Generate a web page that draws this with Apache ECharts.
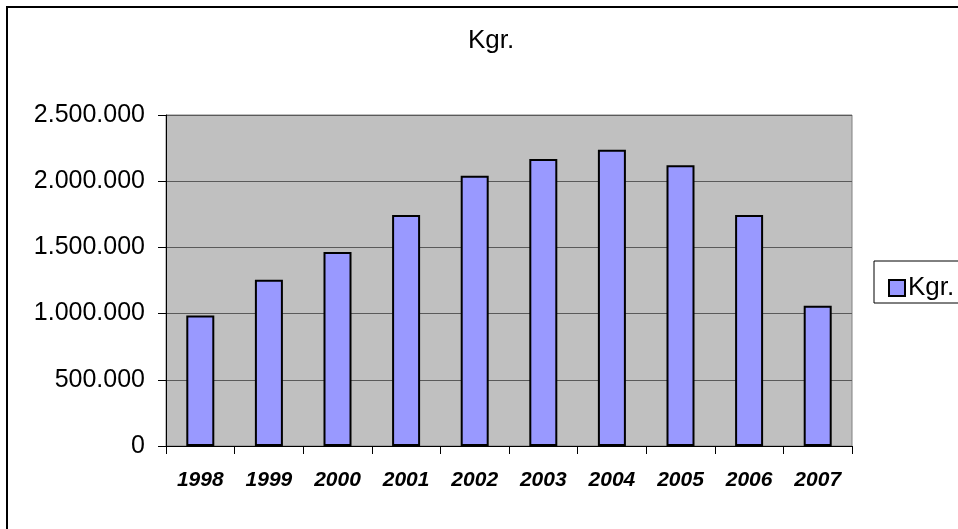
<!DOCTYPE html>
<html>
<head>
<meta charset="utf-8">
<script src="https://cdn.jsdelivr.net/npm/echarts@6/dist/echarts.min.js"></script>
<style>
html,body{margin:0;padding:0;background:#fff;}
#chart{width:958px;height:529px;}
</style>
</head>
<body>
<div id="chart"></div>
<script>
const categories = ['1998','1999','2000','2001','2002','2003','2004','2005','2006','2007'];
const kgrValues = [985000, 1255000, 1465000, 1745000, 2042000, 2168000, 2238000, 2120000, 1745000, 1060000];
const seriesName = 'Kgr.';
const titleText = 'Kgr.';

function fmt(v){
  return String(v).replace(/\B(?=(\d{3})+(?!\d))/g, '.');
}

const chart = echarts.init(document.getElementById('chart'), null, {renderer:'canvas'});
chart.setOption({
  animation:false,
  backgroundColor:'#ffffff',
  title:{
    text:titleText,
    left:486, top:23, textAlign:'center',
    textStyle:{fontFamily:'Liberation Sans, Arial', fontSize:26, fontWeight:'normal', color:'#000'}
  },
  graphic:[
    {type:'rect', shape:{x:7,y:7,width:1000,height:600}, style:{fill:'none', stroke:'#000', lineWidth:2}, z:-1},
    {type:'rect', shape:{x:874,y:261,width:120,height:42}, style:{fill:'#fff', stroke:'#000', lineWidth:1}, z:0}
  ],
  legend:{
    left:883, top:270,
    itemWidth:16, itemHeight:16, itemGap:5,
    icon:'rect',
    textStyle:{fontFamily:'Liberation Sans, Arial', fontSize:26, color:'#000', padding:[0,0,0,-2]},
    data:[seriesName],
    z:5
  },
  grid:{
    left:166, right:106, top:115, bottom:83,
    show:true, backgroundColor:'#C0C0C0', borderColor:'#808080', borderWidth:1
  },
  xAxis:{
    type:'category',
    data:categories,
    axisLine:{lineStyle:{color:'#000', width:1}},
    axisTick:{show:true, length:8, lineStyle:{color:'#000'}},
    axisLabel:{margin:24, fontFamily:'Liberation Sans, Arial', fontSize:21, fontWeight:'bold', fontStyle:'italic', color:'#000'}
  },
  yAxis:{
    type:'value', min:0, max:2500000, interval:500000,
    axisLine:{show:true, lineStyle:{color:'#000', width:1}},
    axisTick:{show:true, length:8, lineStyle:{color:'#000'}},
    axisLabel:{margin:21, formatter:fmt, fontFamily:'Liberation Sans, Arial', fontSize:25, color:'#000'},
    splitLine:{show:true, lineStyle:{color:'#5a5a5a', width:1}}
  },
  series:[{
    name:seriesName,
    type:'bar',
    data:kgrValues,
    barWidth:28,
    itemStyle:{color:'#9999FF', borderColor:'#000', borderWidth:2}
  }]
});
</script>
</body>
</html>
